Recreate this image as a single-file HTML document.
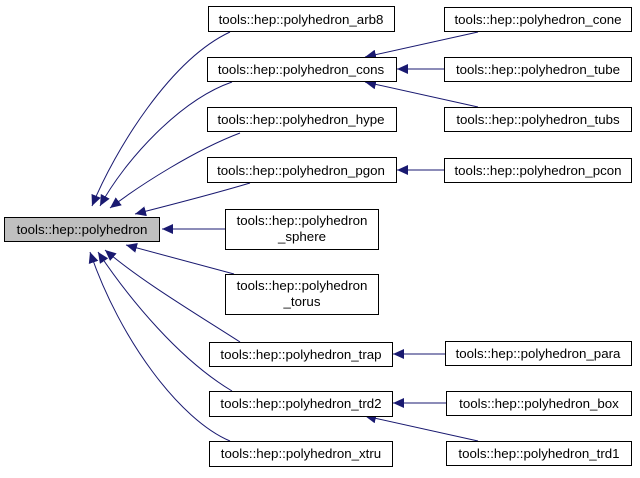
<!DOCTYPE html>
<html><head><meta charset="utf-8"><style>
body{margin:0;background:#fff;}
svg text{font-family:"Liberation Sans",sans-serif;font-size:13.3px;fill:#000;}
</style></head><body>
<svg width="640" height="473" viewBox="0 0 640 473" xmlns="http://www.w3.org/2000/svg">
<defs>
<marker id="a" markerUnits="userSpaceOnUse" markerWidth="12" markerHeight="10" refX="11" refY="5" orient="auto">
<path d="M0,0 L11,5 L0,10 Z" fill="#191970"/>
</marker>
</defs>
<g fill="none" stroke="#191970" stroke-width="1" marker-end="url(#a)">
<path d="M230,32 C170,60 115,150 92,206"/>
<path d="M232,82 C180,100 125,160 100,206"/>
<path d="M240,133 C195,150 140,185 110,208"/>
<path d="M250,183 C210,195 170,205 135,214"/>
<path d="M225,229 L162,229"/>
<path d="M234,274 L126,245"/>
<path d="M240,342 C190,310 140,280 105,250"/>
<path d="M232,391 C180,360 130,300 98,252"/>
<path d="M230,441 C180,420 120,340 90,252"/>
<path d="M478,32 L365,57"/>
<path d="M445,69 L397,69"/>
<path d="M478,107 L365,82"/>
<path d="M445,170 L397,170"/>
<path d="M445,354 L393,354"/>
<path d="M446,403 L393,403"/>
<path d="M478,441 L365,416"/>
</g>
<g stroke="#000" stroke-width="1">
<rect x="4.5" y="217.5" width="155" height="24" fill="#bfbfbf"/>
<rect x="208.5" y="6.5" width="186" height="25" fill="#fff"/>
<rect x="207.5" y="57.5" width="189" height="24" fill="#fff"/>
<rect x="207.5" y="107.5" width="189" height="24" fill="#fff"/>
<rect x="207.5" y="157.5" width="189" height="25" fill="#fff"/>
<rect x="225.5" y="209.5" width="153" height="40" fill="#fff"/>
<rect x="225.5" y="274.5" width="153" height="40" fill="#fff"/>
<rect x="209.5" y="342.5" width="183" height="24" fill="#fff"/>
<rect x="209.5" y="391.5" width="183" height="25" fill="#fff"/>
<rect x="209.5" y="441.5" width="183" height="25" fill="#fff"/>
<rect x="444.5" y="7.5" width="187" height="24" fill="#fff"/>
<rect x="444.5" y="57.5" width="187" height="24" fill="#fff"/>
<rect x="444.5" y="107.5" width="187" height="24" fill="#fff"/>
<rect x="444.5" y="158.5" width="187" height="24" fill="#fff"/>
<rect x="445.5" y="341.5" width="186" height="24" fill="#fff"/>
<rect x="446.5" y="391.5" width="185" height="24" fill="#fff"/>
<rect x="446.5" y="441.5" width="185" height="24" fill="#fff"/>
</g>
<g text-anchor="middle">
<text x="82" y="234">tools::hep::polyhedron</text>
<text x="301" y="24">tools::hep::polyhedron_arb8</text>
<text x="301" y="74">tools::hep::polyhedron_cons</text>
<text x="301" y="124">tools::hep::polyhedron_hype</text>
<text x="301" y="175">tools::hep::polyhedron_pgon</text>
<text x="302" y="225">tools::hep::polyhedron</text>
<text x="302" y="241">_sphere</text>
<text x="302" y="290">tools::hep::polyhedron</text>
<text x="302" y="306">_torus</text>
<text x="301" y="359">tools::hep::polyhedron_trap</text>
<text x="301" y="408">tools::hep::polyhedron_trd2</text>
<text x="301" y="458">tools::hep::polyhedron_xtru</text>
<text x="538" y="24">tools::hep::polyhedron_cone</text>
<text x="538" y="74">tools::hep::polyhedron_tube</text>
<text x="538" y="124">tools::hep::polyhedron_tubs</text>
<text x="538" y="175">tools::hep::polyhedron_pcon</text>
<text x="538" y="358">tools::hep::polyhedron_para</text>
<text x="539" y="408">tools::hep::polyhedron_box</text>
<text x="539" y="458">tools::hep::polyhedron_trd1</text>
</g>
</svg>
</body></html>
